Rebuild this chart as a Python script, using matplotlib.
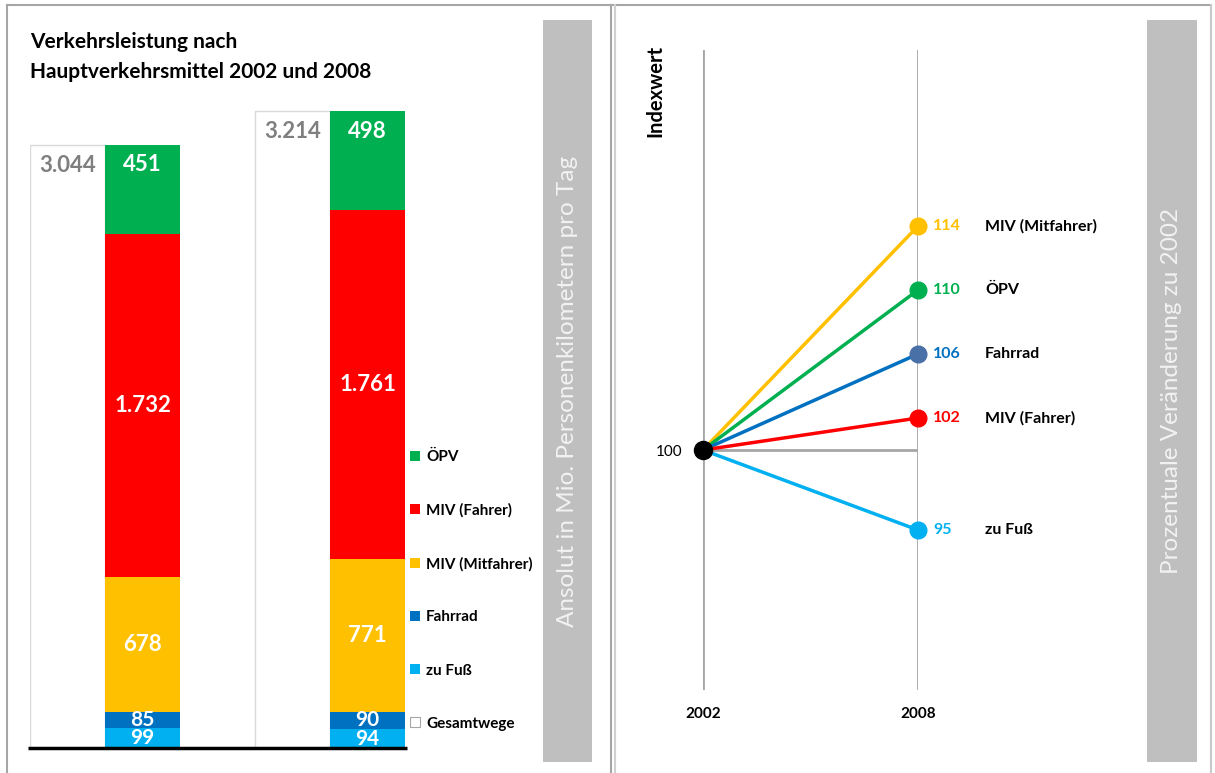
import matplotlib.pyplot as plt
from matplotlib.patches import Rectangle, Patch
from matplotlib.lines import Line2D

plt.rcParams['font.family'] = ['Lato', 'DejaVu Sans']

W, H = 1215, 773

# Verkehrsleistung in Mio. Personenkilometern pro Tag
modes = ['ÖPV', 'MIV (Fahrer)', 'MIV (Mitfahrer)', 'Fahrrad', 'zu Fuß']
colors = ['#00B050', '#FF0000', '#FFC000', '#0070C0', '#00B0F0']
years = ['2002', '2008']
values_2002 = [451, 1732, 678, 85, 99]
values_2008 = [498, 1761, 771, 90, 94]
totals = [3044, 3214]

# Indexwerte 2008 (2002 = 100)
index_modes = ['MIV (Mitfahrer)', 'ÖPV', 'Fahrrad', 'MIV (Fahrer)', 'zu Fuß']
index_values = [114, 110, 106, 102, 95]
index_line_colors = ['#FFC000', '#00B050', '#0070C0', '#FF0000', '#00B0F0']
index_dot_colors = ['#FFC000', '#00B050', '#4A70A8', '#FF0000', '#00B0F0']
index_text_colors = ['#FFC000', '#00B050', '#0070C0', '#FF0000', '#00B0F0']
base_value = 100


def box(x0, y0, x1, y1):
    """Pixel-Rechteck (oben links -> unten rechts) in Figure-Koordinaten."""
    return [x0 / W, 1 - y1 / H, (x1 - x0) / W, (y1 - y0) / H]


def fx(x):
    return x / W


def fy(y):
    return 1 - y / H


fig = plt.figure(figsize=(W / 100, H / 100), dpi=100)

# Rahmen
for xs, ys, c in [([7, 1211], [5, 5], '#A6A6A6'), ([7, 7], [5, 773], '#A6A6A6'),
                  ([611, 611], [5, 773], '#A6A6A6'), ([615, 615], [5, 773], '#D0D0D0'),
                  ([1211, 1211], [5, 773], '#C8C8C8')]:
    fig.add_artist(Line2D([fx(x) for x in xs], [fy(y) for y in ys], color=c, lw=1.5))

# graue Seitenbänder
for (x0, x1), txt in [((543, 592), 'Ansolut in Mio. Personenkilometern pro Tag'),
                      ((1147, 1197), 'Prozentuale Veränderung zu 2002')]:
    fig.add_artist(Rectangle((fx(x0), fy(762)), (x1 - x0) / W, (762 - 20) / H,
                             transform=fig.transFigure, color='#BFBFBF', lw=0))
    fig.text(fx((x0 + x1) / 2), fy(391), txt, rotation=90, ha='center', va='center',
             color='#F2F2F2', fontsize=17.5)

# ---- linkes Diagramm: gestapelte Säulen ----
fig.text(fx(30), fy(42), 'Verkehrsleistung nach', fontsize=15, fontweight='bold',
         va='center', ha='left')
fig.text(fx(30), fy(72), 'Hauptverkehrsmittel 2002 und 2008', fontsize=15,
         fontweight='bold', va='center', ha='left')

ax = fig.add_axes(box(30, 100, 405, 748))
scale_top = 3044 * 648 / 603
ax.set_xlim(-0.5, 4.5)
ax.set_ylim(0, scale_top)
ax.axis('off')

for i, (vals, total) in enumerate(zip([values_2002, values_2008], totals)):
    x_tot = 3 * i
    x_stack = 3 * i + 1
    ax.bar(x_tot, total, width=1, color='white', edgecolor='#D9D9D9', lw=1)
    ax.annotate(f'{total / 1000:.3f}', (x_tot, total), xytext=(0, -20),
                textcoords='offset pixels', ha='center', va='center',
                color='#7F7F7F', fontsize=16, fontweight='bold')
    bottom = 0
    for j in range(len(modes) - 1, -1, -1):
        v = vals[j]
        ax.bar(x_stack, v, width=1, bottom=bottom, color=colors[j], lw=0)
        label = f'{v / 1000:.3f}' if v >= 1000 else str(v)
        if j == 0:
            ax.annotate(label, (x_stack, bottom + v), xytext=(0, -20),
                        textcoords='offset pixels', ha='center', va='center',
                        color='white', fontsize=16, fontweight='bold')
        else:
            ax.text(x_stack, bottom + v / 2, label, ha='center', va='center',
                    color='white', fontsize=16 if v > 150 else 15,
                    fontweight='bold')
        bottom += v

ax.plot([-0.53, 4.53], [0, 0], color='black', lw=2.5, clip_on=False,
        solid_capstyle='butt')

handles = [Patch(facecolor=c, edgecolor='none') for c in colors]
handles.append(Patch(facecolor='white', edgecolor='#A6A6A6', lw=0.8))
ax.legend(handles, modes + ['Gesamtwege'], loc='upper left',
          bbox_to_anchor=(1.0 + 5 / 375, (748 - 450) / 648),
          frameon=False, handlelength=0.65, handleheight=0.65,
          handletextpad=0.4, labelspacing=2.56, borderaxespad=0,
          borderpad=0, prop={'size': 11, 'weight': 'bold'})

# ---- rechtes Diagramm: Indexentwicklung ----
ax2 = fig.add_axes(box(703, 50, 918, 690))
ax2.set_xlim(0, 1)
ax2.set_ylim(85, 125)
for s in ax2.spines.values():
    s.set_visible(False)
ax2.axvline(0, color='#A6A6A6', lw=2, zorder=1)
ax2.axvline(1, color='#A6A6A6', lw=2, zorder=1)
ax2.plot([0, 1], [base_value, base_value], color='#A6A6A6', lw=2, zorder=1)

for name, v, lc, dc, tc in zip(index_modes, index_values, index_line_colors,
                               index_dot_colors, index_text_colors):
    ax2.plot([0, 1], [base_value, v], color=lc, lw=2.5, zorder=2)
    ax2.plot(1, v, 'o', color=dc, markersize=12, zorder=3, clip_on=False)
    ax2.annotate(str(v), (1, v), xytext=(15, 0), textcoords='offset pixels',
                 ha='left', va='center', color=tc, fontsize=11.5,
                 fontweight='bold')
    ax2.annotate(name, (1, v), xytext=(67, 0), textcoords='offset pixels',
                 ha='left', va='center', color='black', fontsize=11.5,
                 fontweight='bold')

ax2.plot(0, base_value, 'o', color='black', markersize=13, zorder=4, clip_on=False)

ax2.set_xticks([0, 1], years)
ax2.set_yticks([base_value], [str(base_value)])
ax2.tick_params(axis='x', length=0, pad=12, labelsize=11)
ax2.tick_params(axis='y', length=0, pad=15, labelsize=11)
for t in ax2.get_xticklabels():
    t.set_fontweight('bold')

fig.text(fx(655), fy(45), 'Indexwert', rotation=90, ha='center', va='top',
         fontsize=14.5, fontweight='bold')

fig.savefig('out.png', dpi=100)
